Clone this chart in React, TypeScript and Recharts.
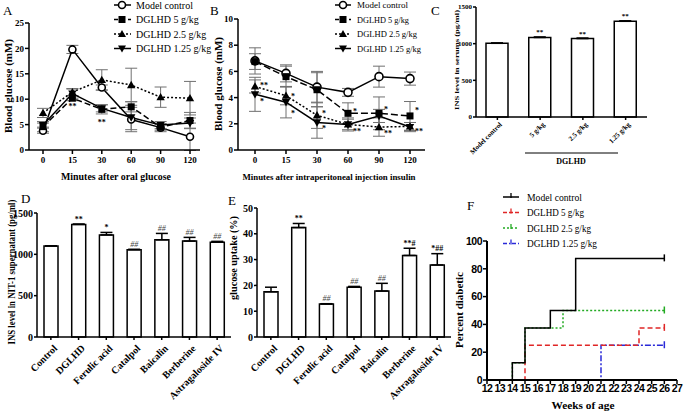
import React from 'react';
import { LineChart, Line, XAxis, YAxis, ErrorBar, BarChart, Bar, LabelList } from 'recharts';

const W = 685;
const H = 413;
const SERIF = '"Liberation Serif", "Times New Roman", serif';
const SANS = '"Liberation Sans", Arial, sans-serif';

// ---------- Panel A : blood glucose after oral glucose ----------
const timeLabels = ['0', '15', '30', '60', '90', '120'];
const aModel = [3.8, 19.8, 12.3, 6.0, 4.4, 2.6];
const aModelErr = [0.5, 0.8, 0.5, 2.4, 0.8, 2.7];
const aD5 = [4.6, 10.2, 8.0, 8.5, 4.5, 5.8];
const aD5Err = [1.0, 0.5, 0.9, 1.0, 0.6, 1.6];
const aD25 = [7.3, 11.4, 13.8, 12.8, 10.4, 10.2];
const aD25Err = [0.9, 0.7, 2.0, 3.3, 2.0, 3.3];
const aD125 = [4.9, 11.1, 8.2, 6.4, 4.9, 5.3];
const aD125Err = [0.4, 0.9, 0.7, 2.4, 0.7, 1.0];
const aNotesD5 = ['', '**', '**', '', '', ''];

// ---------- Panel B : blood glucose after insulin ----------
const bModel = [6.8, 5.85, 4.8, 4.4, 5.6, 5.45];
const bModelErr = [1.0, 0.65, 1.2, 0.3, 0.8, 0.5];
const bD5 = [6.75, 5.6, 4.6, 2.8, 2.8, 2.6];
const bD5Err = [0.6, 0.8, 1.3, 0.8, 1.25, 1.1];
const bD25 = [4.85, 4.15, 2.65, 1.95, 1.75, 1.8];
const bD25Err = [0.5, 0.7, 1.0, 0.4, 0.7, 0.3];
const bD125 = [4.25, 3.65, 2.1, 1.95, 2.6, 1.75];
const bD125Err = [1.3, 1.2, 1.2, 0.5, 0.5, 0.35];
const bNotesD5 = ['', '', '', '*', '*', '*'];
const bNotesD25 = ['**', '*', '*', '**', '**', '**'];
const bNotesD125 = ['*', '*', '*', '', '', ''];

// ---------- Panel C : INS in serum ----------
const cCats = ['Model control', '5 g/kg', '2.5 g/kg', '1.25 g/kg'];
const cVals = [1005, 1085, 1070, 1305];
const cErr = [5, 6, 6, 6];
const cNotes = ['', '**', '**', '**'];

// ---------- Panel D / E ----------
const deCats = ['Control', 'DGLHD', 'Ferulic acid', 'Catalpol', 'Baicalin', 'Berberine', 'Astragaloside IV'];
const dVals = [1100, 1362, 1235, 1055, 1175, 1160, 1147];
const dErr = [4, 4, 30, 6, 78, 45, 10];
const dNotes = ['', '**', '*', '##', '##', '##', '##'];
const eVals = [17.5, 42.4, 12.8, 19.3, 17.8, 31.6, 27.9];
const eErr = [1.8, 1.6, 0.1, 0.3, 3.0, 2.8, 4.4];
const eNotes = ['', '**', '##', '##', '##', '**#', '*##'];

// ---------- Panel F : percent diabetic ----------
const fWeekTicks = [12, 13, 14, 15, 16, 17, 18, 19, 20, 21, 22, 23, 24, 25, 26, 27];
const fModelWeeks = [13, 14, 15, 17, 19, 26];
const fModelPct = [0, 12.5, 37.5, 50, 87.5, 87.5];
const fD5Weeks = [13, 15, 24, 26];
const fD5Pct = [0, 25, 37.5, 37.5];
const fD25Weeks = [13, 14, 15, 18, 26];
const fD25Pct = [0, 12.5, 37.5, 50, 50];
const fD125Weeks = [13, 21, 26];
const fD125Pct = [0, 25, 25];

// ---------- built tables ----------
const aData = timeLabels.map((t, i) => ({
  t, model: aModel[i], modelErr: aModelErr[i], d5: aD5[i], d5Err: aD5Err[i],
  d25: aD25[i], d25Err: aD25Err[i], d125: aD125[i], d125Err: aD125Err[i],
}));
const bData = timeLabels.map((t, i) => ({
  t, model: bModel[i], modelErr: bModelErr[i], d5: bD5[i], d5Err: bD5Err[i],
  d25: bD25[i], d25Err: bD25Err[i], d125: bD125[i], d125Err: bD125Err[i],
}));
const cData = cCats.map((c, i) => ({ c, v: cVals[i], e: [0, cErr[i]] }));
const dData = deCats.map((c, i) => ({ c, v: dVals[i], e: [0, dErr[i]] }));
const eData = deCats.map((c, i) => ({ c, v: eVals[i], e: [0, eErr[i]] }));
const toPts = (ws: number[], ps: number[]) => ws.map((w, i) => ({ w, p: ps[i] }));
const fModel = toPts(fModelWeeks, fModelPct);
const fD5 = toPts(fD5Weeks, fD5Pct);
const fD25 = toPts(fD25Weeks, fD25Pct);
const fD125 = toPts(fD125Weeks, fD125Pct);

// ---------- styling helpers ----------
const mg = (x0: number, y0: number, x1: number, y1: number, yw: number, xh: number) => ({
  left: x0 - yw, top: y0, right: W - x1, bottom: H - y1 - xh,
});
const axisStroke = { stroke: '#000', strokeWidth: 1.5 };
const tickSerif = (fs: number) => ({ fontFamily: SERIF, fontWeight: 'bold', fontSize: fs, fill: '#000' });

const circleDot = (r: number) => (p: any) =>
  p.cx == null ? <g key={`n${p.index}`} /> :
    <circle key={`c${p.index}`} cx={p.cx} cy={p.cy} r={r} fill="#fff" stroke="#000" strokeWidth={1.6} />;
const squareDot = (s: number) => (p: any) =>
  p.cx == null ? <g key={`n${p.index}`} /> :
    <rect key={`s${p.index}`} x={p.cx - s / 2} y={p.cy - s / 2} width={s} height={s} fill="#000" />;
const triDot = (s: number) => (p: any) =>
  p.cx == null ? <g key={`n${p.index}`} /> :
    <path key={`t${p.index}`} d={`M${p.cx},${p.cy - s}L${p.cx + s},${p.cy + s * 0.75}L${p.cx - s},${p.cy + s * 0.75}Z`} fill="#000" />;
const invTriDot = (s: number) => (p: any) =>
  p.cx == null ? <g key={`n${p.index}`} /> :
    <path key={`v${p.index}`} d={`M${p.cx},${p.cy + s}L${p.cx + s},${p.cy - s * 0.75}L${p.cx - s},${p.cy - s * 0.75}Z`} fill="#000" />;

// offsets of significance marks relative to their data point (style only)
const aNoteDy = [0, 11, 16, 0, 0, 0];
const bNoteDyD5 = [0, 0, 0, 1, -1.5, -3];
const bNoteDyD25 = [2, 3, 0.5, 10, 8.5, 8];
const bNoteDyD125 = [10, 13.5, 9, 0, 0, 0];

const lineNote = (notes: string[], dys: number[], dx: number, anchor: string) => (p: any) => {
  const t = notes[p.index];
  if (!t || p.x == null) return null;
  return (
    <text key={`ln${p.index}`} x={p.x + dx} y={p.y + dys[p.index]} textAnchor={anchor}
      fontFamily={SERIF} fontWeight="bold" fontSize={8} fill="#000">{t}</text>
  );
};

const barNote = (notes: string[], errs: number[], vals: number[], fs: number) => (p: any) => {
  const t = notes[p.index];
  if (!t) return null;
  const pxPer = p.height / vals[p.index];
  const top = p.y - errs[p.index] * pxPer;
  const hash = t.indexOf('#') >= 0 && t.indexOf('*') < 0;
  return (
    <text key={`bn${p.index}`} x={p.x + p.width / 2} y={top - 2.5} textAnchor="middle"
      fontFamily={SERIF} fontWeight={hash ? 'normal' : 'bold'} fontStyle={hash ? 'italic' : 'normal'}
      fontSize={fs} fill={hash ? '#444' : '#000'}>{t}</text>
  );
};

const rotTick = (fs: number, ox: number, oy: number) => (p: any) => (
  <g transform={`translate(${p.x + ox},${p.y + oy})`}>
    <text transform="rotate(-45)" textAnchor="end" fontFamily={SERIF}
      fontWeight="bold" fontSize={fs} fill="#000">{p.payload.value}</text>
  </g>
);

const censorTick = (color: string, n: number) => (p: any) =>
  p.index !== n - 1 || p.cx == null ? <g key={`f${p.index}`} /> :
    <line key={`f${p.index}`} x1={p.cx} x2={p.cx} y1={p.cy - 4} y2={p.cy + 3} stroke={color} strokeWidth={1.5} />;

const Layer = ({ children }: { children: any }) => (
  <div style={{ position: 'absolute', left: 0, top: 0, width: W, height: H }}>{children}</div>
);

const Txt = (p: any) => (
  <text x={p.x} y={p.y} fontFamily={p.font || SERIF} fontSize={p.fs} fontWeight={p.bold ? 'bold' : 'normal'}
    textAnchor={p.anchor || 'start'} fill={p.fill || '#000'}
    transform={p.rot ? `rotate(-90 ${p.x} ${p.y})` : undefined}
    textLength={p.len} lengthAdjust={p.len ? 'spacingAndGlyphs' : undefined}>{p.children}</text>
);

function GlucoseChart(props: any) {
  const { data, box, yw, domain, ticks, pad, r, s, dash } = props;
  return (
    <LineChart width={W} height={H} data={data} margin={mg(box[0], box[1], box[2], box[3], yw, 20)}>
      <XAxis dataKey="t" type="category" padding={pad} interval={0} tickSize={4} tickMargin={3}
        axisLine={axisStroke} tickLine={axisStroke} tick={tickSerif(9)} height={20} />
      <YAxis domain={domain} ticks={ticks} interval={0} tickSize={4} tickMargin={1} width={yw}
        axisLine={axisStroke} tickLine={axisStroke} tick={tickSerif(9)} allowDataOverflow />
      <Line dataKey="model" stroke="#000" strokeWidth={1.5} dot={circleDot(r)} isAnimationActive={false}>
        <ErrorBar dataKey="modelErr" width={6} stroke="#707070" strokeWidth={1} />
      </Line>
      <Line dataKey="d5" stroke="#000" strokeWidth={1.5} strokeDasharray={dash} dot={squareDot(s)} isAnimationActive={false}>
        <ErrorBar dataKey="d5Err" width={6} stroke="#707070" strokeWidth={1} />
        {props.notes5 ? <LabelList dataKey="d5" content={props.notes5} /> : null}
      </Line>
      <Line dataKey="d25" stroke="#000" strokeWidth={1.5} strokeDasharray="2 2" dot={triDot(s * 0.6)} isAnimationActive={false}>
        <ErrorBar dataKey="d25Err" width={6} stroke="#707070" strokeWidth={1} />
        {props.notes25 ? <LabelList dataKey="d25" content={props.notes25} /> : null}
      </Line>
      <Line dataKey="d125" stroke="#000" strokeWidth={1.5} dot={invTriDot(s * 0.6)} isAnimationActive={false}>
        <ErrorBar dataKey="d125Err" width={6} stroke="#707070" strokeWidth={1} />
        {props.notes125 ? <LabelList dataKey="d125" content={props.notes125} /> : null}
      </Line>
    </LineChart>
  );
}

function BarPanel(props: any) {
  const { data, box, yw, xh, domain, ticks, barSize, tfs, xfs, notes, errs, vals, nfs, ox, oy } = props;
  return (
    <BarChart width={W} height={H} data={data} margin={mg(box[0], box[1], box[2], box[3], yw, xh)}>
      <XAxis dataKey="c" type="category" interval={0} tickSize={3} tickMargin={2} height={xh}
        axisLine={axisStroke} tickLine={axisStroke} tick={rotTick(xfs, ox, oy)} />
      <YAxis domain={domain} ticks={ticks} interval={0} tickSize={3} tickMargin={1} width={yw}
        axisLine={axisStroke} tickLine={axisStroke} tick={tickSerif(tfs)} />
      <Bar dataKey="v" fill="#fff" stroke="#000" strokeWidth={1.5} barSize={barSize} isAnimationActive={false}>
        <ErrorBar dataKey="e" width={6} stroke="#000" strokeWidth={1.5} />
        <LabelList dataKey="v" content={barNote(notes, errs, vals, nfs)} />
      </Bar>
    </BarChart>
  );
}

const legendLine = (x0: number, x1: number, y: number, dash?: string, color = '#000') => (
  <line x1={x0} x2={x1} y1={y} y2={y} stroke={color} strokeWidth={1.5} strokeDasharray={dash} />
);

export default function App() {
  const A = [29, 23, 200, 150];
  const B = [238, 19, 425, 150];
  const C = [476, 7, 647, 117];
  const D = [37, 213, 231, 337];
  const E = [257, 208, 451, 337];
  const F = [487, 241, 677, 380];

  const aRows = [5, 19.5, 34, 48.5];
  const fRows = [197, 212.5, 228, 243.5];

  return (
    <div style={{ position: 'absolute', left: 0, top: 0, width: W, height: H, background: '#fff', overflow: 'hidden' }}>
      <Layer>
        <GlucoseChart data={aData} box={A} yw={29} domain={[0, 25]} ticks={[0, 5, 10, 15, 20, 25]}
          pad={{ left: 14, right: 10 }} r={3.5} s={7} dash="6 3"
          notes5={lineNote(aNotesD5, aNoteDy, 0, 'middle')} />
      </Layer>
      <Layer>
        <GlucoseChart data={bData} box={B} yw={30} domain={[0, 10]} ticks={[0, 2, 4, 6, 8, 10]}
          pad={{ left: 17, right: 15 }} r={4} s={7} dash="7 3"
          notes5={lineNote(bNotesD5, bNoteDyD5, 5, 'start')}
          notes25={lineNote(bNotesD25, bNoteDyD25, 5, 'start')}
          notes125={lineNote(bNotesD125, bNoteDyD125, 5, 'start')} />
      </Layer>
      <Layer>
        <BarPanel data={cData} box={C} yw={21} xh={40} domain={[0, 1500]} ticks={[0, 500, 1000, 1500]}
          barSize={22} tfs={7} xfs={7} ox={5} oy={3} notes={cNotes} errs={cErr} vals={cVals} nfs={7} />
      </Layer>
      <Layer>
        <BarPanel data={dData} box={D} yw={30} xh={60} domain={[0, 1500]} ticks={[0, 500, 1000, 1500]}
          barSize={14} tfs={10} xfs={10} ox={7} oy={7} notes={dNotes} errs={dErr} vals={dVals} nfs={8} />
      </Layer>
      <Layer>
        <BarPanel data={eData} box={E} yw={22} xh={60} domain={[0, 50]} ticks={[0, 10, 20, 30, 40, 50]}
          barSize={14} tfs={10} xfs={10} ox={7} oy={7} notes={eNotes} errs={eErr} vals={eVals} nfs={8} />
      </Layer>
      <Layer>
        <LineChart width={W} height={H} margin={mg(F[0], F[1], F[2], F[3], 25, 20)}>
          <XAxis dataKey="w" type="number" domain={[12, 27]} ticks={fWeekTicks} interval={0} tickSize={4} tickMargin={1}
            axisLine={{ stroke: '#000', strokeWidth: 2 }} tickLine={{ stroke: '#000', strokeWidth: 1.5 }} height={20}
            tick={{ fontFamily: SANS, fontWeight: 'bold', fontSize: 10.5, fill: '#000', letterSpacing: -0.6 }} />
          <YAxis domain={[0, 100]} ticks={[0, 20, 40, 60, 80, 100]} interval={0} tickSize={4} tickMargin={1} width={25}
            axisLine={{ stroke: '#000', strokeWidth: 2 }} tickLine={{ stroke: '#000', strokeWidth: 1.5 }}
            tick={{ fontFamily: SANS, fontWeight: 'bold', fontSize: 10.5, fill: '#000', letterSpacing: -0.5 }} />
          <Line data={fD125} dataKey="p" type="stepAfter" stroke="#2a2ad8" strokeWidth={1.5} strokeDasharray="6 2 2 2"
            dot={censorTick('#2a2ad8', fD125.length)} isAnimationActive={false} />
          <Line data={fD5} dataKey="p" type="stepAfter" stroke="#e02626" strokeWidth={1.5} strokeDasharray="5 3"
            dot={censorTick('#e02626', fD5.length)} isAnimationActive={false} />
          <Line data={fD25} dataKey="p" type="stepAfter" stroke="#22aa22" strokeWidth={1.5} strokeDasharray="2 2"
            dot={censorTick('#22aa22', fD25.length)} isAnimationActive={false} />
          <Line data={fModel} dataKey="p" type="stepAfter" stroke="#000" strokeWidth={1.5}
            dot={censorTick('#000', fModel.length)} isAnimationActive={false} />
        </LineChart>
      </Layer>
      <Layer>
        <svg width={W} height={H} style={{ position: 'absolute', left: 0, top: 0 }}>
          {/* panel letters */}
          <Txt x={3} y={15} fs={13}>A</Txt>
          <Txt x={210} y={15} fs={13}>B</Txt>
          <Txt x={431} y={15} fs={13}>C</Txt>
          <Txt x={21} y={203} fs={13}>D</Txt>
          <Txt x={228} y={205} fs={13}>E</Txt>
          <Txt x={467} y={210} fs={13}>F</Txt>

          {/* axis titles */}
          <Txt x={116} y={180} fs={9.5} bold anchor="middle" len={110}>Minutes after oral glucose</Txt>
          <Txt x={329} y={180} fs={9} bold anchor="middle" len={173}>Minutes after intraperitoneal injection insulin</Txt>
          <Txt x={12} y={86} fs={10} bold anchor="middle" rot len={94}>Blood glucose (mM)</Txt>
          <Txt x={222} y={84} fs={10} bold anchor="middle" rot len={94}>Blood glucose (mM)</Txt>
          <Txt x={459} y={60} fs={7} bold anchor="middle" rot len={100}>INS level in serums (pg/ml)</Txt>
          <Txt x={15} y={272} fs={9.5} bold anchor="middle" rot len={145}>INS level in NIT-1 supernatant (pg/ml)</Txt>
          <Txt x={237} y={258} fs={10} bold anchor="middle" rot len={84}>glucose uptake (%)</Txt>
          <Txt x={463} y={310} fs={10.5} bold anchor="middle" rot len={76}>Percent diabetic</Txt>
          <Txt x={583} y={409} fs={10} bold anchor="middle" len={63}>Weeks of age</Txt>

          {/* group bracket of panel C */}
          <line x1={525} x2={618} y1={153} y2={153} stroke="#000" strokeWidth={1} />
          <Txt x={571} y={164} fs={8} bold anchor="middle">DGLHD</Txt>

          {/* legend A */}
          {legendLine(114, 131, aRows[0])}
          <circle cx={122} cy={aRows[0]} r={3.5} fill="#fff" stroke="#000" strokeWidth={1.6} />
          {legendLine(114, 131, aRows[1], '4 3')}
          <rect x={118.5} y={aRows[1] - 3.5} width={7} height={7} fill="#000" />
          {legendLine(114, 131, aRows[2], '2 2')}
          <path d={`M122,${aRows[2] - 4}L126,${aRows[2] + 3}L118,${aRows[2] + 3}Z`} fill="#000" />
          {legendLine(114, 131, aRows[3])}
          <path d={`M122,${aRows[3] + 4}L126,${aRows[3] - 3}L118,${aRows[3] - 3}Z`} fill="#000" />
          <Txt x={136} y={aRows[0] + 3.5} fs={10}>Model control</Txt>
          <Txt x={136} y={aRows[1] + 3.5} fs={10}>DGLHD 5 g/kg</Txt>
          <Txt x={136} y={aRows[2] + 3.5} fs={10}>DGLHD 2.5 g/kg</Txt>
          <Txt x={136} y={aRows[3] + 3.5} fs={10}>DGLHD 1.25 g/kg</Txt>

          {/* legend B */}
          {legendLine(335, 351, aRows[0])}
          <circle cx={343} cy={aRows[0]} r={3.5} fill="#fff" stroke="#000" strokeWidth={1.6} />
          {legendLine(335, 351, aRows[1], '4 3')}
          <rect x={339.5} y={aRows[1] - 3.5} width={7} height={7} fill="#000" />
          {legendLine(335, 351, aRows[2], '2 2')}
          <path d={`M343,${aRows[2] - 4}L347,${aRows[2] + 3}L339,${aRows[2] + 3}Z`} fill="#000" />
          {legendLine(335, 351, aRows[3])}
          <path d={`M343,${aRows[3] + 4}L347,${aRows[3] - 3}L339,${aRows[3] - 3}Z`} fill="#000" />
          <Txt x={357} y={aRows[0] + 3.2} fs={9} len={51}>Model control</Txt>
          <Txt x={357} y={aRows[1] + 3.2} fs={9} len={52}>DGLHD 5 g/kg</Txt>
          <Txt x={357} y={aRows[2] + 3.2} fs={9} len={60}>DGLHD 2.5 g/kg</Txt>
          <Txt x={357} y={aRows[3] + 3.2} fs={9} len={64}>DGLHD 1.25 g/kg</Txt>

          {/* legend F */}
          {legendLine(503, 519, fRows[0])}
          <line x1={511} x2={511} y1={fRows[0] - 4} y2={fRows[0] + 1} stroke="#000" strokeWidth={1.3} />
          {legendLine(503, 519, fRows[1], '4 2', '#e02626')}
          <line x1={511} x2={511} y1={fRows[1] - 4} y2={fRows[1] + 1} stroke="#e02626" strokeWidth={1.3} />
          {legendLine(503, 519, fRows[2], '2 2', '#22aa22')}
          <line x1={511} x2={511} y1={fRows[2] - 4} y2={fRows[2] + 1} stroke="#22aa22" strokeWidth={1.3} />
          {legendLine(503, 519, fRows[3], '4 2 1 2', '#2a2ad8')}
          <line x1={511} x2={511} y1={fRows[3] - 4} y2={fRows[3] + 1} stroke="#2a2ad8" strokeWidth={1.3} />
          <Txt x={527} y={fRows[0] + 3.5} fs={10} len={55}>Model control</Txt>
          <Txt x={527} y={fRows[1] + 3.5} fs={10} len={57}>DGLHD 5 g/kg</Txt>
          <Txt x={527} y={fRows[2] + 3.5} fs={10} len={64}>DGLHD 2.5 g/kg</Txt>
          <Txt x={527} y={fRows[3] + 3.5} fs={10} len={70}>DGLHD 1.25 g/kg</Txt>
        </svg>
      </Layer>
    </div>
  );
}
